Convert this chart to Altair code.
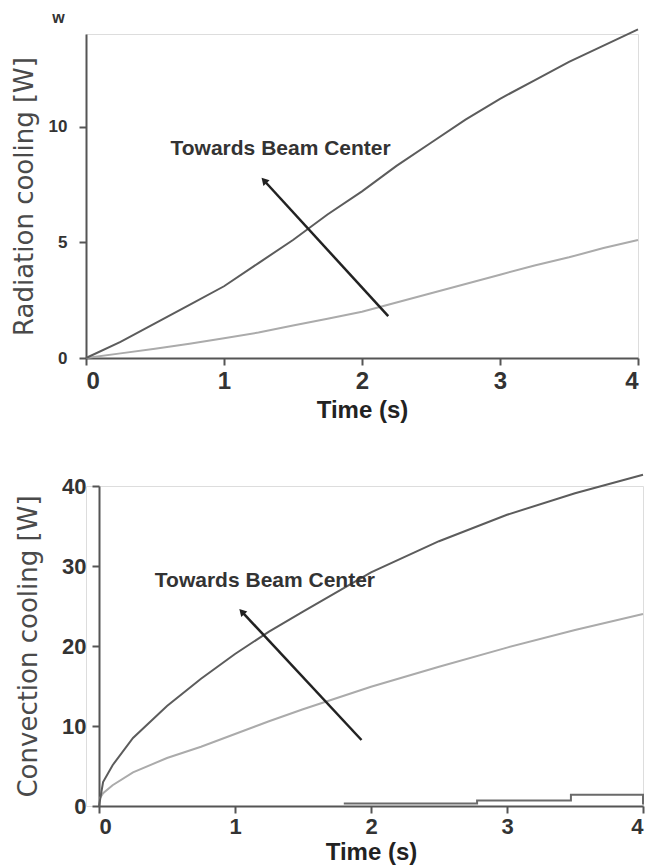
import altair as alt
import pandas as pd

# ---------------- data ----------------
t_rad = [0, 0.25, 0.5, 0.75, 1.0, 1.25, 1.5, 1.75, 2.0, 2.25, 2.5, 2.75, 3.0, 3.25, 3.5, 3.75, 4.0]
rad_center = [0, 0.7, 1.5, 2.3, 3.1, 4.1, 5.1, 6.2, 7.2, 8.3, 9.3, 10.3, 11.2, 12.0, 12.8, 13.5, 14.2]
rad_edge = [0, 0.2, 0.4, 0.62, 0.85, 1.1, 1.4, 1.7, 2.0, 2.4, 2.8, 3.2, 3.6, 4.0, 4.35, 4.75, 5.1]

t_conv = [0, 0.03, 0.1, 0.25, 0.5, 0.75, 1.0, 1.25, 1.5, 2.0, 2.5, 3.0, 3.5, 4.0]
conv_center = [0, 3.0, 5.1, 8.5, 12.5, 15.9, 19.0, 21.8, 24.3, 29.2, 33.1, 36.4, 39.1, 41.4]
conv_edge = [0.8, 1.6, 2.6, 4.2, 6.0, 7.4, 9.0, 10.6, 12.1, 14.9, 17.4, 19.8, 22.0, 24.0]

t_step = [1.8, 2.78, 3.47, 4.0, 4.0]
v_step = [0.3, 0.7, 1.4, 1.4, 0.2]

x_ticks = [0, 1, 2, 3, 4]
rad_ticks = [0, 5, 10]
conv_ticks = [0, 10, 20, 30, 40]

arrow_rad = {"t": [2.19], "v": [1.81], "t2": [1.29], "v2": [7.67]}
arrow_conv = {"t": [1.93], "v": [8.25], "t2": [1.05], "v2": [24.3]}
label_text = "Towards Beam Center"
label_rad = {"t": [1.41], "v": [9.05]}
label_conv = {"t": [1.22], "v": [28.1]}
corner_text = {"t": [-0.2], "v": [14.7], "txt": ["w"]}

DARK = "#5c5c5c"
LIGHT = "#ababab"
AXC = "#555555"


def xaxis(label_size, label_pad, title_pad):
    return alt.Axis(values=x_ticks, format="d", title="Time (s)", grid=False,
                    labelFont="Liberation Sans", labelFontWeight="bold",
                    labelFontSize=label_size, labelColor="#333333", labelPadding=label_pad,
                    titleFont="Liberation Sans", titleFontWeight="bold",
                    titleFontSize=24, titleColor="#222222", titlePadding=title_pad,
                    domainColor=AXC, domainWidth=2, tickColor=AXC, tickWidth=2,
                    tickSize=7)


def yaxis(vals, title, label_size, title_pad, label_pad, offset):
    return alt.Axis(values=vals, format="d", title=title, grid=False,
                    labelFont="Liberation Sans", labelFontWeight="bold",
                    labelFontSize=label_size, labelColor="#333333",
                    labelPadding=label_pad, offset=offset,
                    titleFont="DejaVu Sans", titleFontWeight="normal",
                    titleFontSize=26, titleColor="#4a4a4a", titlePadding=title_pad,
                    domainColor=AXC, domainWidth=2, tickColor=AXC, tickWidth=2,
                    tickSize=7)


def panel(t, center, edge, ymax, yvals, ytitle, arrow, lab, W, H,
          ylab_size, title_pad, label_pad, x_lsize, x_lpad, x_tpad,
          shift=0, extra=None):
    xs = alt.Scale(domain=[0, 4], nice=False, zero=False, range=[shift, W])
    ys = alt.Scale(domain=[0, ymax], nice=False)
    df_c = pd.DataFrame({"t": t, "v": center})
    df_e = pd.DataFrame({"t": t, "v": edge})
    base_x = alt.X("t:Q", scale=xs, axis=xaxis(x_lsize, x_lpad, x_tpad))
    base_y = alt.Y("v:Q", scale=ys,
                   axis=yaxis(yvals, ytitle, ylab_size, title_pad, label_pad, -shift))
    l_edge = alt.Chart(df_e).mark_line(color=LIGHT, strokeWidth=2).encode(x=base_x, y=base_y)
    l_cent = alt.Chart(df_c).mark_line(color=DARK, strokeWidth=2).encode(
        x=alt.X("t:Q", scale=xs), y=alt.Y("v:Q", scale=ys))
    adf = pd.DataFrame(arrow)
    a_line = alt.Chart(adf).mark_rule(color="#222222", strokeWidth=2.5).encode(
        x=alt.X("t:Q", scale=xs), y=alt.Y("v:Q", scale=ys), x2="t2:Q", y2="v2:Q")
    a_head = alt.Chart(adf).mark_point(shape="triangle-up", filled=True, color="#222222",
                                       size=70, angle=317, opacity=1).encode(
        x=alt.X("t2:Q", scale=xs), y=alt.Y("v2:Q", scale=ys))
    tdf = pd.DataFrame(lab)
    txt = alt.Chart(tdf).mark_text(text=label_text, font="Liberation Sans", fontWeight="bold",
                                   fontSize=21, color="#333333", align="center",
                                   baseline="middle").encode(
        x=alt.X("t:Q", scale=xs), y=alt.Y("v:Q", scale=ys))
    layers = [l_edge, l_cent, a_line, a_head, txt]
    if extra is not None:
        layers += [e(xs, ys) for e in extra]
    return alt.layer(*layers).properties(width=W, height=H)


def corner(xs, ys):
    return alt.Chart(pd.DataFrame(corner_text)).mark_text(
        font="Liberation Sans", fontWeight="bold", fontSize=16, color="#333333",
        align="center", baseline="middle").encode(
        x=alt.X("t:Q", scale=xs), y=alt.Y("v:Q", scale=ys), text="txt:N")


def step(xs, ys):
    return alt.Chart(pd.DataFrame({"t": t_step, "v": v_step})).mark_line(
        color="#6a6a6a", strokeWidth=2, interpolate="step-after").encode(
        x=alt.X("t:Q", scale=xs), y=alt.Y("v:Q", scale=ys))


top = panel(t_rad, rad_center, rad_edge, 14, rad_ticks, "Radiation cooling [W]",
            arrow_rad, label_rad, 552, 324, 17, 11, 12, 24, 4, 5, extra=[corner])
bottom = panel(t_conv, conv_center, conv_edge, 40, conv_ticks, "Convection cooling [W]",
               arrow_conv, label_conv, 557, 320, 22, 20, 6, 22, 3, 3,
               shift=13, extra=[step])

chart = alt.vconcat(top, bottom, spacing=47).properties(
    padding={"left": 10, "top": 9, "right": 0, "bottom": 0}
).configure_view(strokeWidth=0).configure(background="white")

chart.save("out.html", embed_options={"renderer": "svg", "actions": False})
